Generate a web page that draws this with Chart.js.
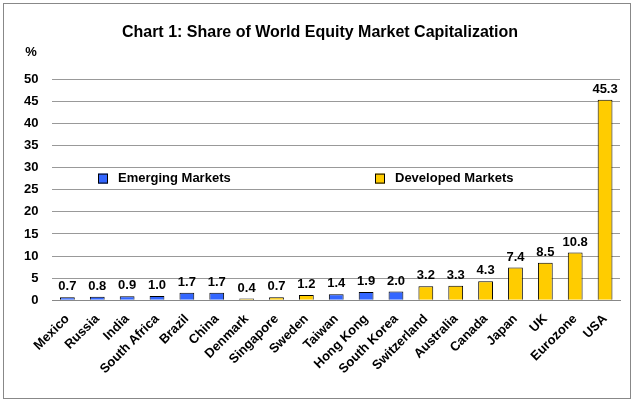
<!DOCTYPE html>
<html><head><meta charset="utf-8">
<script src="https://cdn.jsdelivr.net/npm/chart.js@4"></script>
<style>
html,body{margin:0;padding:0;background:#fff;}
#box{position:absolute;left:3px;top:3px;width:626px;height:394px;border:1px solid #888;}
canvas{position:absolute;left:0;top:0;}
</style></head><body>
<div id="box"></div>
<canvas id="c" width="636" height="404"></canvas>
<script>
var countries = ['Mexico','Russia','India','South Africa','Brazil','China','Denmark','Singapore','Sweden','Taiwan','Hong Kong','South Korea','Switzerland','Australia','Canada','Japan','UK','Eurozone','USA'];
var shares = [0.7,0.8,0.9,1.0,1.7,1.7,0.4,0.7,1.2,1.4,1.9,2.0,3.2,3.3,4.3,7.4,8.5,10.8,45.3];
var emerging = ['Mexico','Russia','India','South Africa','Brazil','China','Taiwan','Hong Kong','South Korea'];
var BLUE = '#3366ff', YELLOW = '#ffcc00';
var FONT = 'Arial, "Liberation Sans", sans-serif';

var extras = {
  id: 'extras',
  afterDatasetsDraw: function(chart) {
    var ctx = chart.ctx;
    var meta = chart.getDatasetMeta(0);
    ctx.save();
    ctx.font = 'bold 13px ' + FONT;
    ctx.fillStyle = '#000';
    ctx.textAlign = 'center';
    ctx.textBaseline = 'bottom';
    meta.data.forEach(function(bar, i) {
      ctx.fillText(shares[i].toFixed(1), bar.x, bar.y - 4);
    });
    // title and unit
    ctx.font = 'bold 16px ' + FONT;
    ctx.textBaseline = 'middle';
    ctx.fillText('Chart 1: Share of World Equity Market Capitalization', 320, 33);
    ctx.font = 'bold 13px ' + FONT;
    ctx.fillText('%', 31, 52);
    // legend
    var items = [['Emerging Markets', BLUE, 98], ['Developed Markets', YELLOW, 375]];
    var ly = chart.scales.y.getPixelForValue(27.5);
    ctx.textAlign = 'left';
    items.forEach(function(it) {
      ctx.fillStyle = it[1];
      ctx.fillRect(it[2], ly - 5, 10, 10);
      ctx.strokeStyle = '#000';
      ctx.lineWidth = 1;
      ctx.strokeRect(it[2] + 0.5, ly - 4.5, 9, 9);
      ctx.fillStyle = '#000';
      ctx.fillText(it[0], it[2] + 20, ly);
    });
    ctx.restore();
  }
};

new Chart(document.getElementById('c'), {
  type: 'bar',
  data: {
    labels: countries,
    datasets: [{
      data: shares,
      backgroundColor: countries.map(function(c){ return emerging.indexOf(c) >= 0 ? BLUE : YELLOW; }),
      borderColor: '#000',
      borderWidth: 1,
      barPercentage: 0.55,
      categoryPercentage: 0.9
    }]
  },
  options: {
    responsive: false,
    animation: false,
    layout: { padding: { left: 10, right: 16, top: 79, bottom: 24 } },
    plugins: { legend: { display: false }, tooltip: { enabled: false } },
    scales: {
      x: {
        grid: { display: false },
        border: { color: '#888' },
        ticks: { color: '#000', maxRotation: 45, minRotation: 45, autoSkip: false,
                 font: { family: FONT, weight: 'bold', size: 13 } }
      },
      y: {
        min: 0, max: 50,
        ticks: { stepSize: 5, color: '#000', padding: 14,
                 font: { family: FONT, weight: 'bold', size: 13 } },
        grid: { color: '#999', lineWidth: 1, drawTicks: false },
        border: { display: false }
      }
    }
  },
  plugins: [extras]
});
</script>
</body></html>
